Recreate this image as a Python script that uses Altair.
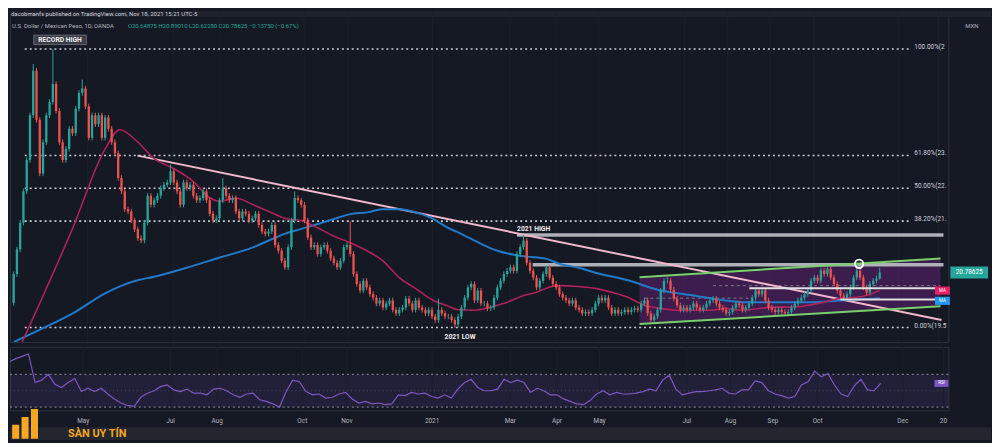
import altair as alt
import pandas as pd

# ---------------- data ----------------
# daily-ish closes (one candle per ~1.6 trading days), USD/MXN
CLOSE = [
    20.75, 21.3, 21.9, 22.6, 23.3, 24.3, 25.3, 24.2, 23.0, 23.7,
    24.3, 24.6, 25.0, 24.4, 23.7, 23.3, 23.55, 24.0, 23.9, 24.45,
    24.8, 24.9, 24.5, 23.8, 24.3, 24.1, 24.3, 23.8, 24.25, 24.0,
    23.7, 23.45, 22.9, 22.6, 22.2, 22.15, 21.95, 21.75, 21.55, 21.5,
    21.9, 22.5, 22.3, 22.4, 22.5, 22.67, 22.75, 22.8, 23.05, 22.8,
    22.6, 22.3, 22.8, 22.67, 22.75, 22.5, 22.4, 22.45, 22.6, 22.4,
    22.1, 21.95, 22.0, 22.4, 22.67, 22.5, 22.4, 22.45, 22.15, 22.0,
    22.15, 22.1, 21.95, 22.0, 22.1, 21.85, 21.7, 21.65, 21.7, 21.85,
    21.4, 21.27, 21.05, 20.9, 21.35, 21.95, 22.45, 22.4, 22.3, 21.95,
    21.57, 21.35, 21.4, 21.2, 21.35, 21.4, 21.27, 21.1, 21.0, 20.9,
    21.05, 21.35, 21.4, 21.2, 20.75, 20.53, 20.38, 20.6, 20.45, 20.3,
    20.22, 20.09, 20.16, 20.0, 20.09, 20.16, 19.95, 19.87, 19.95, 20.0,
    20.2, 20.09, 19.95, 20.16, 20.0, 19.95, 19.87, 19.95, 19.8, 19.72,
    19.95, 19.87, 19.8, 19.8, 19.72, 19.62, 19.8, 20.0, 20.22, 20.45,
    20.53, 20.16, 20.38, 20.09, 20.09, 19.98, 20.0, 20.22, 20.45, 20.6,
    20.75, 20.82, 20.9, 20.82, 21.2, 21.35, 21.5, 21.0, 20.82, 20.67,
    20.45, 20.6, 20.75, 20.9, 20.67, 20.53, 20.45, 20.3, 20.22, 20.16,
    20.09, 20.16, 20.0, 19.95, 19.87, 19.9, 19.87, 19.95,
    20.09, 20.22, 20.16, 20.22, 20.0, 19.87, 19.95, 19.87, 19.9, 19.95,
    19.9, 19.95, 19.98, 19.95, 20.09, 20.16, 19.87, 19.72, 19.8, 19.95,
    20.38, 20.6, 20.6, 20.4, 20.2, 20.05, 19.95, 20.0, 19.95, 20.0,
    20.09, 20.0, 19.95, 20.0, 20.09, 20.16, 20.2, 20.09, 20.0, 19.95,
    19.87, 19.9, 20.0, 20.09, 20.05,
    19.95, 20.0, 20.09, 20.22, 20.38, 20.3, 20.38, 20.16, 20.0, 19.95,
    19.9, 19.95, 19.9, 19.87, 19.9, 20.0, 20.09, 20.16, 20.22, 20.3,
    20.38, 20.6, 20.67, 20.6, 20.83, 20.75, 20.87, 20.67, 20.53, 20.38,
    20.27, 20.22, 20.3, 20.45, 20.67, 20.83, 20.67, 20.45, 20.33, 20.53,
    20.6, 20.64875, 20.78625,
]
FIRST_OPEN = 20.10
WICK = 0.06
HIGH_OVERRIDE = {6: 25.45, 12: 25.78, 21: 25.10, 48: 23.20, 64: 22.90, 86: 22.60,
                 88: 22.45, 103: 21.93, 130: 20.20, 156: 21.63, 163: 20.95,
                 200: 20.68, 249: 20.92, 258: 20.98, 265: 20.8901}
LOW_OVERRIDE = {135: 19.55, 265: 20.6228}

MA50_IDX = [2.5, 18.1, 28.0, 32.5, 37.9, 43.0, 49.0, 55.0, 60.1, 63.1, 67.9, 73.0,
            78.1, 82.9, 88.0, 93.1, 97.9, 103.0, 108.1, 112.9, 118.0, 123.1, 127.9,
            133.0, 136.0, 141.1, 145.9, 151.0, 156.1, 160.0, 163.0, 166.0, 172.9,
            178.0, 183.1, 187.9, 193.0, 198.1, 202.9, 208.0, 213.1, 217.9, 223.0,
            228.1, 232.9, 238.0, 243.1, 247.9, 253.0, 258.1, 262.9, 265.0]
MA50_VAL = [19.21, 21.78, 23.55, 23.98, 23.71, 23.33, 23.11, 22.82, 22.45, 22.38, 22.45,
            22.31, 22.15, 22.0, 21.94, 21.78, 21.60, 21.45, 21.27, 21.05, 20.67, 20.42,
            20.18, 20.03, 19.95, 19.94, 20.01, 20.12, 20.27, 20.34, 20.43, 20.49, 20.47,
            20.43, 20.34, 20.23, 20.05, 19.98, 19.94, 19.94, 19.94, 19.98, 19.94, 19.98,
            20.01, 20.01, 20.05, 20.12, 20.21, 20.23, 20.32, 20.38]

MA200_IDX = [0.1, 7.9, 18.1, 28.0, 33.1, 37.9, 43.0, 52.9, 63.1, 73.0, 78.1, 82.9,
             88.0, 93.1, 97.9, 103.0, 108.1, 112.9, 118.0, 123.1, 127.9, 133.0, 136.9,
             142.9, 148.0, 153.1, 157.0, 163.0, 166.9, 172.9, 178.0, 187.9, 198.1,
             208.0, 217.9, 223.0, 232.9, 243.1, 253.0, 258.1, 265.0]
MA200_VAL = [19.23, 19.50, 19.87, 20.32, 20.49, 20.61, 20.69, 20.89, 21.12, 21.34, 21.50,
             21.65, 21.76, 21.87, 21.98, 22.09, 22.13, 22.20, 22.20, 22.13, 22.0, 21.78,
             21.65, 21.43, 21.27, 21.18, 21.14, 21.09, 20.98, 20.89, 20.78, 20.61, 20.38,
             20.27, 20.16, 20.12, 20.12, 20.12, 20.16, 20.18, 20.21]

RSI_VALUES = [85, 89, 92, 95, 60, 63, 70, 58, 54, 60,
              65, 49, 53, 49, 53, 46, 40, 35, 32, 31,
              42, 47, 50, 55, 57, 51, 49, 52, 47, 47,
              45, 52, 53, 50, 45, 42, 46, 47, 39, 37,
              34, 30, 49, 63, 61, 49, 45, 46, 41, 42,
              46, 48, 40, 35, 37, 34, 35, 33, 34, 45,
              44, 48, 46, 47, 43, 41, 45, 41, 52, 60,
              64, 54, 50, 50, 52, 64, 60, 63, 60, 48,
              53, 50, 45, 45, 40, 37, 34, 33, 38, 46,
              50, 45, 48, 46, 46, 47, 49, 52, 50, 63,
              69, 52, 45, 47, 49, 49, 50, 51, 53, 47,
              46, 51, 51, 62, 60, 50, 46, 44, 41, 43,
              57, 61, 74, 67, 71, 57, 46, 43, 56, 64,
              51, 50, 59]
RSI_IDX = list(range(0, 2 * len(RSI_VALUES), 2))

TICK_IDX = [22.6, 49.0, 63.1, 88.9, 102.4, 128.2, 151.9, 166.0, 178.9, 205.3, 218.5,
            231.4, 244.9, 270.7, 283.0]
TICK_LABELS = ["May", "Jul", "Aug", "Oct", "Nov", "2021", "Mar", "Apr", "May", "Jul",
               "Aug", "Sep", "Oct", "Dec", "20"]

PRICE_TICKS = [19.5, 20.0, 20.5, 21.0, 21.5, 22.0, 22.5, 23.0, 23.5, 24.0, 24.5, 25.0,
               25.5, 26.0]

FIB_LEVELS = [25.7836, 23.4036, 22.6686, 21.9335, 19.5535]
FIB_LABELS = ["100.00%(2", "61.80%(23.", "50.00%(22.", "38.20%(21.", "0.00%(19.5"]
FIB_START, FIB_END, FIB_LABEL_AT = 3.4, 274.6, 275.6

TREND = {"x0": [37.9], "y0": [23.40], "x1": [283.9], "y1": [19.72]}
CHANNEL_IDX = [191.5, 283.6]
CHANNEL_TOP = [20.68, 21.10]
CHANNEL_BOT = [19.63, 20.03]
RESIST_LEVEL = [21.625, 20.96]
RESIST_START = [154.0, 158.8]
WHITE_LEVEL = [20.43, 20.18]
WHITE_START = [225.1, 253.0]
DASH_LEVEL = [20.49, 20.21]
DASH_START = [214.0, 193.0]
DASH_END = [283.6, 226.0]
CIRCLE = {"i": [258.7], "p": [20.98]}

# ---------------- styling ----------------
BG = "#151924"
TEAL = "#26a69a"
RED = "#ef5350"
GRID = "#1b1f2b"
TXT = "#b2b5be"
FONT = "Roboto"
W = 947
H_MAIN = 334
H_RSI = 64
X_DOMAIN = [0.4, 284.5]
Y_DOMAIN = [19.231, 26.636]
RSI_DOMAIN = [26.06, 103.64]

xs = alt.Scale(domain=X_DOMAIN, nice=False, zero=False)
ys = alt.Scale(domain=Y_DOMAIN, nice=False, zero=False)
rs = alt.Scale(domain=RSI_DOMAIN, nice=False, zero=False)


def X(f):
    return alt.X(f, type="quantitative", scale=xs, axis=None)


def Y(f):
    return alt.Y(f, type="quantitative", scale=ys, axis=None)


def R(f):
    return alt.Y(f, type="quantitative", scale=rs, axis=None)


# ---------------- tables ----------------
opens = [FIRST_OPEN] + CLOSE[:-1]
rows = []
for i, (o, c) in enumerate(zip(opens, CLOSE)):
    rows.append(dict(i=i, open=o, close=c,
                     high=HIGH_OVERRIDE.get(i, max(o, c) + WICK),
                     low=LOW_OVERRIDE.get(i, min(o, c) - WICK),
                     dir="up" if c >= o else "down"))
candles = pd.DataFrame(rows)
ticks = pd.DataFrame({"i": TICK_IDX, "label": TICK_LABELS})
fib = pd.DataFrame({"p": FIB_LEVELS, "label": FIB_LABELS,
                    "x0": FIB_START, "x1": FIB_END, "xl": FIB_LABEL_AT})
trend = pd.DataFrame(TREND)
channel = pd.DataFrame({"i": CHANNEL_IDX, "top": CHANNEL_TOP, "bot": CHANNEL_BOT})
resist = pd.DataFrame({"p": RESIST_LEVEL, "x0": RESIST_START, "x1": X_DOMAIN[1]})
whites = pd.DataFrame({"p": WHITE_LEVEL, "x0": WHITE_START, "x1": 283.6})
dashes = pd.DataFrame({"p": DASH_LEVEL, "x0": DASH_START, "x1": DASH_END})
ma50 = pd.DataFrame({"i": MA50_IDX, "v": MA50_VAL})
ma200 = pd.DataFrame({"i": MA200_IDX, "v": MA200_VAL})
rsi = pd.DataFrame({"i": RSI_IDX, "v": RSI_VALUES})

price_axis = alt.Axis(orient="right", values=PRICE_TICKS, format=".5f", labelFontSize=6.5,
                      labelColor=TXT, labelFont=FONT, ticks=False, domain=False, grid=True,
                      gridColor=GRID, labelPadding=6, title=None)
cscale = alt.Scale(domain=["up", "down"], range=[TEAL, RED])

# ---------------- price pane ----------------
topbar = alt.Chart(pd.DataFrame({"a": [0]})).mark_rect(color="#1e222d").encode(
    x=alt.value(0), x2=alt.value(990), y=alt.value(0), y2=alt.value(6))
vgrid = alt.Chart(ticks).mark_rule(color=GRID, strokeWidth=1).encode(x=X("i"))
fib_lines = alt.Chart(fib).mark_rule(color="#c9cbd1", strokeWidth=1.6, strokeDash=[2, 3],
                                     clip=True).encode(x=X("x0"), x2="x1:Q", y=Y("p"))
fib_text = alt.Chart(fib).mark_text(align="left", baseline="middle", dy=-2, fontSize=6.5,
                                    font=FONT, color="#d1d4dc").encode(
    x=X("xl"), y=Y("p"), text="label:N")
chan_fill = alt.Chart(channel).mark_area(color="#9c27b0", opacity=0.30, clip=True).encode(
    x=X("i"), y=Y("top"), y2="bot:Q")
chan_top = alt.Chart(channel).mark_line(color="#78d06a", strokeWidth=2, clip=True).encode(
    x=X("i"), y=Y("top"))
chan_bot = alt.Chart(channel).mark_line(color="#78d06a", strokeWidth=2, clip=True).encode(
    x=X("i"), y=Y("bot"))
resist_l = alt.Chart(resist).mark_rule(color="#aeb1b8", strokeWidth=3.5, clip=True).encode(
    x=X("x0"), x2="x1:Q", y=Y("p"))
dash_l = alt.Chart(dashes).mark_rule(color="#787b86", strokeWidth=1, strokeDash=[3, 3],
                                     clip=True).encode(x=X("x0"), x2="x1:Q", y=Y("p"))
trend_l = alt.Chart(trend).mark_rule(color="#f3b8cb", strokeWidth=2, clip=True).encode(
    x=X("x0"), y=Y("y0"), x2="x1:Q", y2="y1:Q")
ma200_l = alt.Chart(ma200).mark_line(color="#2179c9", strokeWidth=2, interpolate="monotone",
                                     clip=True).encode(x=X("i"), y=Y("v"))
ma50_l = alt.Chart(ma50).mark_line(color="#b0225a", strokeWidth=1.6, interpolate="monotone",
                                   clip=True).encode(x=X("i"), y=Y("v"))
wicks = alt.Chart(candles).mark_rule(strokeWidth=1, clip=True).encode(
    x=X("i"), y=alt.Y("low:Q", scale=ys, axis=price_axis), y2="high:Q",
    color=alt.Color("dir:N", scale=cscale, legend=None))
bodies = alt.Chart(candles).mark_bar(size=2.3, clip=True).encode(
    x=X("i"), y=Y("open"), y2="close:Q",
    color=alt.Color("dir:N", scale=cscale, legend=None))
white_l = alt.Chart(whites).mark_rule(color="#e0e0e0", strokeWidth=2, clip=True).encode(
    x=X("x0"), x2="x1:Q", y=Y("p"))
circle = alt.Chart(pd.DataFrame(CIRCLE)).mark_point(
    shape="circle", size=70, filled=False, stroke="#ffffff", strokeWidth=2, opacity=1).encode(
    x=X("i"), y=Y("p"))

notes = pd.DataFrame({"i": [14.2, 159.1, 136.6], "p": [25.99, 21.757, 19.34],
                      "t": ["RECORD HIGH", "2021 HIGH", "2021 LOW"]})
rec_box = alt.Chart(notes.iloc[[0]]).mark_point(
    shape="M-1,-0.18L1,-0.18L1,0.18L-1,0.18Z", size=2809, filled=True, fill="#3a3d47",
    stroke="#8a8d96", strokeWidth=0.6, opacity=1).encode(x=X("i"), y=Y("p"))
note_text = alt.Chart(notes).mark_text(fontSize=6.8, fontWeight="bold", font=FONT,
                                       color="#f0f0f0", baseline="middle").encode(
    x=X("i"), y=Y("p"), text="t:N")

ma_tags = pd.DataFrame({"p": [20.38, 20.15], "c": ["#e91e63", "#2196f3"], "t": ["MA", "MA"]})
ma_box = alt.Chart(ma_tags).mark_point(shape="M-1,-0.55L1,-0.55L1,0.55L-1,0.55Z", size=225,
                                       filled=True, opacity=1).encode(
    x=alt.value(941), y=Y("p"), fill=alt.Fill("c:N", scale=None))
ma_txt = alt.Chart(ma_tags).mark_text(fontSize=4.5, color="#ffffff", font=FONT,
                                      baseline="middle").encode(
    x=alt.value(941), y=Y("p"), text="t:N")

last = pd.DataFrame({"p": [CLOSE[-1]], "t": ["20.78625"]})
last_box = alt.Chart(last).mark_point(shape="M-1,-0.32L1,-0.32L1,0.32L-1,0.32Z", size=1444,
                                      filled=True, fill=TEAL, opacity=1).encode(
    x=alt.value(968), y=Y("p"))
last_txt = alt.Chart(last).mark_text(fontSize=6.5, color="#ffffff", font=FONT,
                                     baseline="middle").encode(
    x=alt.value(968), y=Y("p"), text="t:N")

head = pd.DataFrame({
    "x": [1, 2, 119, 964],
    "y": [3, 15, 15, 15],
    "t": ["dacobmanfx published on TradingView.com, Nov 18, 2021 15:21 UTC-5",
          "U.S. Dollar / Mexican Peso, 1D, OANDA",
          "O20.64875  H20.89010  L20.62280  C20.78625  \u22120.13750 (\u22120.67%)",
          "MXN"],
    "c": ["#d1d4dc", TXT, TEAL, TXT],
})
head_txt = alt.Chart(head).mark_text(align="left", baseline="middle", fontSize=6,
                                     font=FONT).encode(
    x=alt.X("x:Q", scale=None, axis=None), y=alt.Y("y:Q", scale=None, axis=None),
    text="t:N", color=alt.Color("c:N", scale=None))

main = alt.layer(
    topbar, vgrid, fib_lines, chan_fill, resist_l, dash_l, trend_l, ma200_l, ma50_l,
    wicks, bodies, chan_top, chan_bot, white_l, circle, fib_text, rec_box, note_text,
    ma_box, ma_txt, last_box, last_txt, head_txt,
).properties(width=W, height=H_MAIN)

# ---------------- RSI pane ----------------
rsi_axis = alt.Axis(orient="right", values=[60, 100], format=".2f", labelFontSize=6.5,
                    labelColor=TXT, labelFont=FONT, ticks=False, domain=False, grid=False,
                    labelPadding=6, title=None)
band = alt.Chart(pd.DataFrame({"a": [70], "b": [30]})).mark_rect(
    color="#7e57c2", opacity=0.13).encode(x=alt.value(0), x2=alt.value(W), y=R("a"), y2="b:Q")
levels = alt.Chart(pd.DataFrame({"v": [70, 30]})).mark_rule(
    color="#787b86", strokeDash=[2, 3], strokeWidth=1.2).encode(
    x=alt.value(0), x2=alt.value(W), y=R("v"))
mid = alt.Chart(pd.DataFrame({"v": [50]})).mark_rule(
    color="#4a4e5a", strokeDash=[1, 3], strokeWidth=1).encode(
    x=alt.value(0), x2=alt.value(W), y=R("v"))
rgrid = alt.Chart(ticks).mark_rule(color=GRID, strokeWidth=1).encode(x=X("i"))
rsi_line = alt.Chart(rsi).mark_line(color="#7e57c2", strokeWidth=1.2, clip=True).encode(
    x=X("i"), y=alt.Y("v:Q", scale=rs, axis=rsi_axis))
rsi_tag = alt.Chart(pd.DataFrame({"v": [RSI_VALUES[-1]], "t": ["RSI"]})).mark_point(
    shape="M-1,-0.5L1,-0.5L1,0.5L-1,0.5Z", size=196, filled=True, fill="#7e57c2",
    opacity=1).encode(x=alt.value(940), y=R("v"))
rsi_tag_t = alt.Chart(pd.DataFrame({"v": [RSI_VALUES[-1]], "t": ["RSI"]})).mark_text(
    fontSize=4.5, color="#ffffff", font=FONT, baseline="middle").encode(
    x=alt.value(940), y=R("v"), text="t:N")
month_txt = alt.Chart(ticks).mark_text(fontSize=6.5, color=TXT, font=FONT,
                                       baseline="middle").encode(
    x=X("i"), y=alt.value(75), text="label:N")
footer = alt.Chart(pd.DataFrame({"a": [0]})).mark_rect(color="#23262f").encode(
    x=alt.value(0), x2=alt.value(990), y=alt.value(81), y2=alt.value(94))
ICON = ("M-1,1L-1,0.1L-0.55,0.1L-0.55,1Z M-0.4,1L-0.4,-0.4L0.05,-0.4L0.05,1Z "
        "M0.2,1L0.2,-0.9L0.65,-0.9L0.65,1Z")
logo_icon = alt.Chart(pd.DataFrame({"a": [0]})).mark_point(
    shape=ICON, size=1000, filled=True, fill="#f5a623", opacity=1).encode(
    x=alt.value(18), y=alt.value(77))
logo_txt = alt.Chart(pd.DataFrame({"t": ["S\u00c0N UY T\u00cdN"]})).mark_text(
    fontSize=11, fontWeight="bold", font=FONT, color="#f5a623", baseline="middle").encode(
    x=alt.value(88), y=alt.value(87.5), text="t:N")

rsi_chart = alt.layer(
    band, rgrid, levels, mid, rsi_line, rsi_tag, rsi_tag_t, month_txt, footer,
    logo_icon, logo_txt,
).properties(width=W, height=H_RSI)

chart = alt.vconcat(main, rsi_chart, spacing=3).resolve_scale(
    y="independent", color="independent"
).properties(padding=0, background=BG).configure_view(
    stroke="#2f333e", strokeWidth=1
).configure_text(font=FONT)

chart.save("out.html", embed_options={"renderer": "svg", "actions": False})
